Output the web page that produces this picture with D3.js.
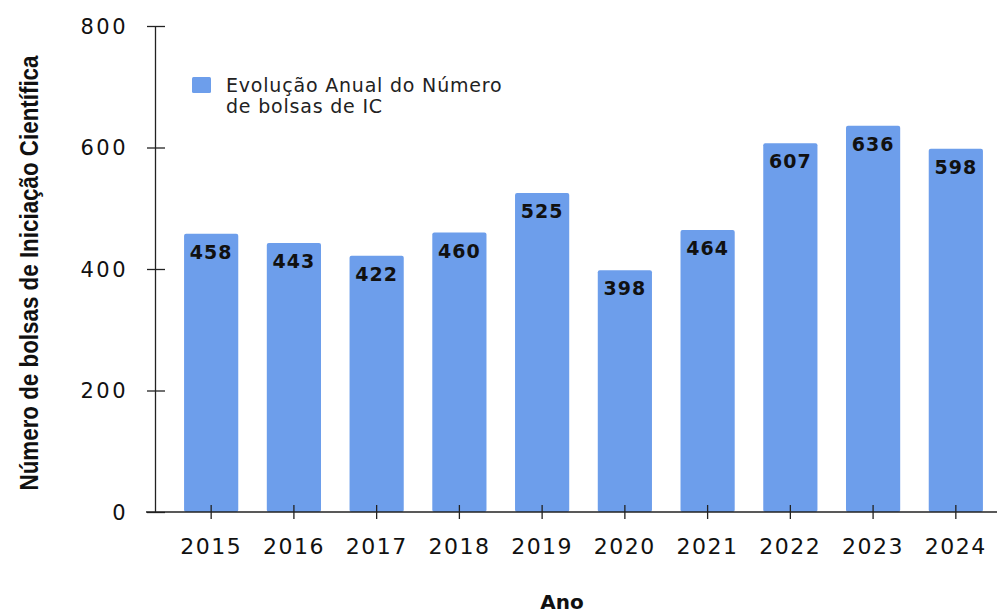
<!DOCTYPE html>
<html>
<head>
<meta charset="utf-8">
<script src="https://cdn.jsdelivr.net/npm/d3@7"></script>
<style>
  body { margin: 0; background: #fff; }
  svg { display: block; }
</style>
</head>
<body>
<div id="chart"></div>
<script>
var width = 998,
    height = 615;

var anos = ["2015", "2016", "2017", "2018", "2019", "2020", "2021", "2022", "2023", "2024"];
var bolsas = [458, 443, 422, 460, 525, 398, 464, 607, 636, 598];
var yTicks = [0, 200, 400, 600, 800];

var svg = d3.select("#chart").append("svg")
    .attr("width", width)
    .attr("height", height)

var x = d3.scaleBand()
    .domain(anos)
    .range([170, 997])
    .paddingInner(0.345)
    .paddingOuter(0.17)

var y = d3.scaleLinear()
    .domain([0, 800])
    .range([512, 26])

// barras
svg.append("g")
  .selectAll("rect")
  .data(anos)
  .join("rect")
    .attr("x", d => x(d))
    .attr("y", (d, i) => y(bolsas[i]))
    .attr("width", x.bandwidth())
    .attr("height", (d, i) => y(0) - y(bolsas[i]))
    .attr("rx", 2)
    .attr("fill", "#6d9eeb")

// rotulos dos valores
svg.append("g")
  .selectAll("text")
  .data(anos)
  .join("text")
    .attr("x", d => x(d) + x.bandwidth() / 2)
    .attr("y", (d, i) => y(bolsas[i]) + 25)
    .attr("text-anchor", "middle")
    .style("font-family", "DejaVu Sans")
    .style("font-weight", "bold")
    .style("font-size", "19px")
    .style("letter-spacing", "1px")
    .attr("fill", "#111")
    .text((d, i) => bolsas[i])

// eixo y
var yAxis = svg.append("g")
    .attr("transform", "translate(155,0)")
    .call(d3.axisLeft(y).tickValues(yTicks).tickSize(0).tickPadding(27))
yAxis.select(".domain").attr("stroke", "#222").attr("stroke-width", 1.3)
yAxis.selectAll(".tick line").remove()
yAxis.selectAll(".tick")
  .append("line")
    .attr("x1", -8).attr("x2", 10)
    .attr("stroke", "#222").attr("stroke-width", 1.3)
yAxis.selectAll(".tick text")
    .style("font-family", "DejaVu Sans")
    .style("font-size", "21px")
    .style("letter-spacing", "2.5px")
    .attr("dy", "0.35em")
    .attr("fill", "#111")

// eixo x
var xAxis = svg.append("g")
    .attr("transform", "translate(0,512)")
    .call(d3.axisBottom(x).tickSize(0).tickPadding(26))
xAxis.select(".domain").attr("d", "M146,0H997").attr("stroke", "#222").attr("stroke-width", 1.3)
xAxis.selectAll(".tick")
  .append("line")
    .attr("y1", -7).attr("y2", 7)
    .attr("stroke", "#222").attr("stroke-width", 1.3)
xAxis.selectAll(".tick text")
    .style("font-family", "DejaVu Sans")
    .style("font-size", "22px")
    .style("letter-spacing", "1.5px")
    .attr("fill", "#111")

// titulos dos eixos
svg.append("text")
    .attr("transform", "translate(38,273) rotate(-90)")
    .attr("text-anchor", "middle")
    .attr("textLength", 435)
    .attr("lengthAdjust", "spacingAndGlyphs")
    .style("font-family", "Liberation Sans")
    .style("font-weight", "bold")
    .style("font-size", "25px")
    .attr("fill", "#111")
    .text("Número de bolsas de Iniciação Científica")

svg.append("text")
    .attr("x", 562)
    .attr("y", 609)
    .attr("text-anchor", "middle")
    .style("font-family", "DejaVu Sans")
    .style("font-weight", "bold")
    .style("font-size", "20px")
    .attr("fill", "#111")
    .text("Ano")

// legenda
var legend = svg.append("g")
legend.append("rect")
    .attr("x", 192).attr("y", 77)
    .attr("width", 19).attr("height", 16)
    .attr("rx", 1.5)
    .attr("fill", "#6d9eeb")
legend.append("text")
    .attr("x", 226).attr("y", 92)
    .style("font-family", "DejaVu Sans")
    .style("font-size", "19px")
    .style("letter-spacing", "0.8px")
    .attr("fill", "#222")
    .text("Evolução Anual do Número")
legend.append("text")
    .attr("x", 226).attr("y", 113)
    .style("font-family", "DejaVu Sans")
    .style("font-size", "19px")
    .style("letter-spacing", "0.8px")
    .attr("fill", "#222")
    .text("de bolsas de IC")
</script>
</body>
</html>
